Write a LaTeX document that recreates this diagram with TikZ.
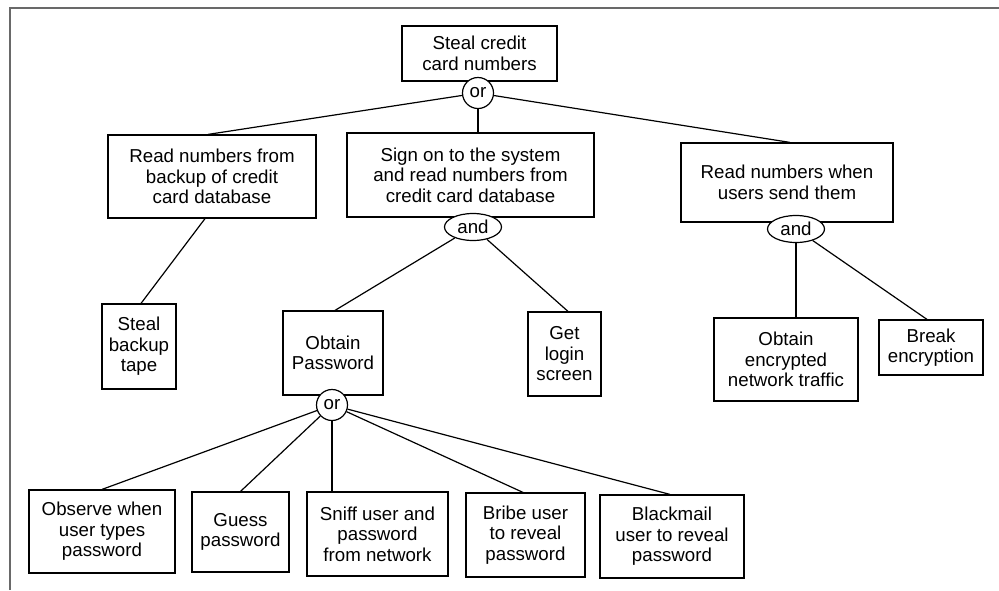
\documentclass[tikz,border=0pt]{standalone}
\usepackage{fontspec}
\setmainfont{Liberation Sans}
\usetikzlibrary{shapes.geometric,calc}
\definecolor{framegray}{RGB}{105,105,105}
\begin{document}
\begin{tikzpicture}[x=1pt,y=-1pt,
  every node/.style={font=\fontsize{18.7}{20.5}\selectfont, text=black},
  goal/.style={draw, line width=1.2pt, rectangle, align=center, inner sep=0pt},
  orgate/.style={draw, line width=1.2pt, circle, fill=white, minimum size=31pt, inner sep=0pt},
  andgate/.style={draw, line width=1.2pt, ellipse, fill=white, minimum width=57pt, minimum height=27pt, inner sep=0pt},
  link/.style={line width=1.2pt}]
\useasboundingbox (0,0) rectangle (999,590);
% outer frame edges
\draw[framegray, line width=1.6pt] (10,590) -- (10,8) -- (999,8);

% root
\node[goal, minimum width=155pt, minimum height=55pt] (root) at (479.5,53.5) {Steal credit\\card numbers};
\node[orgate] (or1) at (478,93) {or};

% second level
\node[goal, minimum width=208pt, minimum height=83pt] (backup) at (212,176.5) {Read numbers from\\backup of credit\\card database};
\node[goal, minimum width=247pt, minimum height=84pt] (signon) at (470.5,175) {Sign on to the system\\and read numbers from\\credit card database};
\node[goal, minimum width=212pt, minimum height=79pt] (sniffnet) at (787,182.5) {Read numbers when\\users send them};
\node[andgate] (and1) at (473,227) {and};
\node[andgate] (and2) at (796,229) {and};

% third level
\node[goal, minimum width=74pt, minimum height=85pt] (tape) at (139,346.5) {Steal\\backup\\tape};
\node[goal, minimum width=100pt, minimum height=84pt] (pwd) at (333,353) {Obtain\\Password};
\node[orgate] (or2) at (332,405) {or};
\node[goal, minimum width=73pt, minimum height=84pt] (login) at (564.5,354) {Get\\login\\screen};
\node[goal, minimum width=144pt, minimum height=83pt] (traffic) at (786,359.5) {Obtain\\encrypted\\network traffic};
\node[goal, minimum width=104pt, minimum height=55pt] (crypt) at (931,347.5) {Break\\encryption};

% leaves under Obtain Password
\node[goal, minimum width=146pt, minimum height=83pt] (observe) at (102,531.5) {Observe when\\user types\\password};
\node[goal, minimum width=97pt, minimum height=80pt] (guess) at (240.5,532) {Guess\\password};
\node[goal, minimum width=141pt, minimum height=84pt] (sniff) at (377.5,534) {Sniff user and\\password\\from network};
\node[goal, minimum width=119pt, minimum height=84pt] (bribe) at (525.5,535) {Bribe user\\to reveal\\password};
\node[goal, minimum width=144pt, minimum height=83pt] (blackmail) at (672,536.5) {Blackmail\\user to reveal\\password};

% connectors
\draw[link] (or1) -- ($(backup.north)+(-4,0)$);
\draw[link] (or1) -- (signon.north -| or1);
\draw[link] (or1) -- ($(sniffnet.north)+(3,0)$);
\draw[link] ($(backup.south)+(-7,0)$) -- ($(tape.north)+(2,0)$);
\draw[link] (and1) -- ($(pwd.north)+(2,0)$);
\draw[link] (and1) -- ($(login.north)+(3.5,0)$);
\draw[link] (and2.south) -- (traffic.north -| and2.south);
\draw[link] (and2) -- ($(crypt.north)+(-4,0)$);
\draw[link] (or2) -- (observe.north);
\draw[link] (or2) -- (guess.north);
\draw[link] (or2) -- (sniff.north -| or2);
\draw[link] (or2) -- ($(bribe.north)+(-2.5,0)$);
\draw[link] (or2) -- ($(blackmail.north)+(-2,0)$);
\end{tikzpicture}
\end{document}
